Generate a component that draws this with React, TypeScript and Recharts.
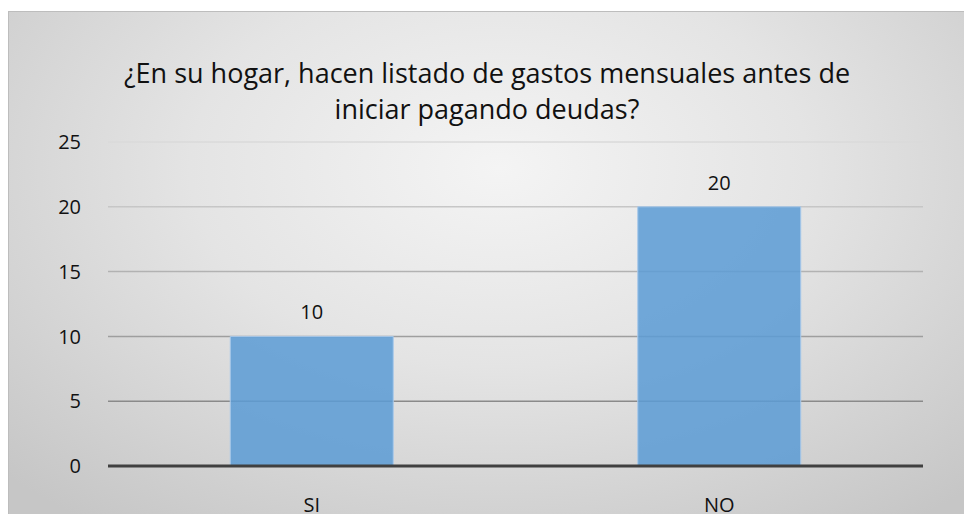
import { Bar, BarChart, CartesianGrid, LabelList, XAxis, YAxis } from "recharts";

const categories = ["SI", "NO"];
const values = [10, 20];
const yTicks = [0, 5, 10, 15, 20, 25];

const data = categories.map((name, i) => ({ name, value: values[i] }));

const font = "'Open Sans', 'Liberation Sans', sans-serif";

export default function App() {
  return (
    <div
      style={{
        position: "relative",
        marginTop: 3,
        width: 980,
        height: 520,
        borderTop: "1px solid #bdbdbd",
        borderLeft: "1px solid #bdbdbd",
        background:
          "radial-gradient(ellipse 70% 85% at 50% 30%, #f4f4f4 0%, #e4e4e4 45%, #c6c6c6 100%)",
        fontFamily: font,
      }}
    >
      <div
        style={{
          position: "absolute",
          left: 0,
          top: 43,
          width: 956,
          textAlign: "center",
          fontSize: 27,
          lineHeight: "36px",
          color: "#111",
        }}
      >
        ¿En su hogar, hacen listado de gastos mensuales antes de
        <br />
        iniciar pagando deudas?
      </div>
      <BarChart
        width={964}
        height={520}
        data={data}
        margin={{ top: 130, right: 50, bottom: 26, left: 0 }}
        barCategoryGap="30%"
        style={{ position: "absolute", left: 0, top: 0 }}
      >
        <defs>
          <linearGradient
            id="gridFade"
            gradientUnits="userSpaceOnUse"
            x1="0"
            y1="130"
            x2="0"
            y2="390"
          >
            <stop offset="0%" stopColor="#dadada" />
            <stop offset="100%" stopColor="#8a8a8a" />
          </linearGradient>
        </defs>
        <CartesianGrid vertical={false} stroke="url(#gridFade)" strokeWidth={1.5} />
        <YAxis
          width={99}
          domain={[0, 25]}
          ticks={yTicks}
          axisLine={false}
          tickLine={false}
          tickSize={0}
          tickMargin={27}
          tick={{ fill: "#111", fontSize: 20, fontFamily: font }}
        />
        <XAxis
          dataKey="name"
          height={40}
          axisLine={{ stroke: "#404040", strokeWidth: 3 }}
          tickLine={false}
          tickSize={0}
          tickMargin={32}
          tick={{ fill: "#111", fontSize: 20, fontFamily: font }}
        />
        <Bar
          dataKey="value"
          fill="#5B9BD5"
          fillOpacity={0.85}
          stroke="#a9c9ea"
          strokeWidth={1}
          isAnimationActive={false}
        >
          <LabelList
            dataKey="value"
            position="top"
            offset={17}
            fill="#111"
            fontSize={20}
            fontFamily={font}
          />
        </Bar>
      </BarChart>
    </div>
  );
}
